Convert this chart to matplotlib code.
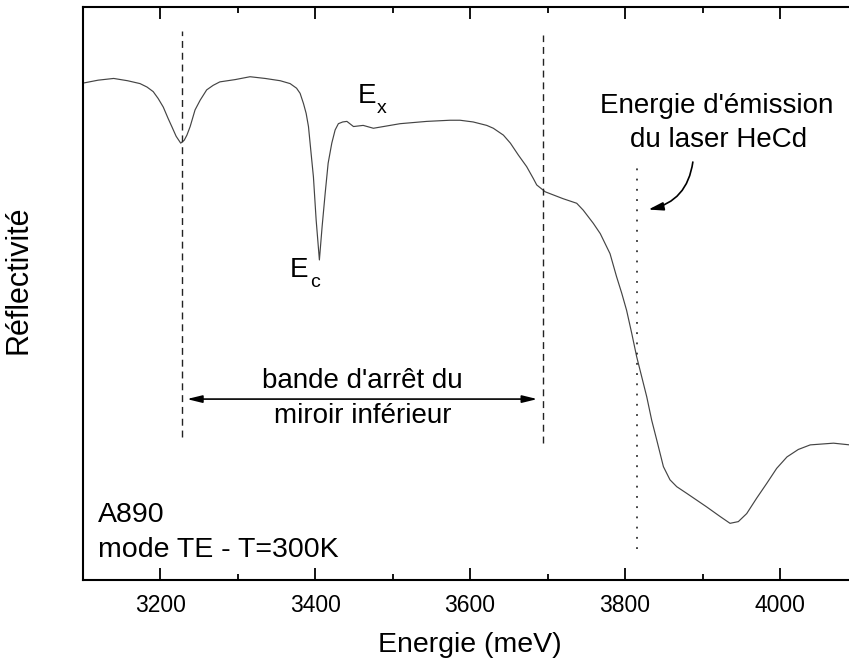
import matplotlib
matplotlib.use("Agg")
import matplotlib.pyplot as plt
from matplotlib.ticker import MultipleLocator

plt.rcParams['font.family'] = ['Liberation Sans', 'DejaVu Sans']

# Reflectivity spectrum, arbitrary units
energy = [3101, 3120, 3140, 3158, 3174, 3183, 3191, 3197.4, 3204, 3210.3, 3215, 3220.6,
          3226.5, 3231, 3234.5, 3238.7, 3245, 3251.6, 3260, 3268.4, 3277, 3296.8, 3316,
          3335.5, 3355, 3367.7, 3376, 3380.6, 3385, 3388.4, 3391.4, 3394.8, 3397.8, 3401.3,
          3405.5, 3409, 3413, 3416.8, 3421.5, 3425.8, 3430, 3435.6, 3441, 3449.5, 3462,
          3475.2, 3492.5, 3509.7, 3544.1, 3574, 3587, 3604, 3621.5, 3630, 3643, 3652,
          3662.4, 3673, 3681.7, 3686, 3697, 3720, 3737.6, 3746, 3759, 3768, 3780.6, 3789,
          3795.7, 3802, 3808.6, 3815, 3821.5, 3828, 3834.4, 3841, 3849.5, 3858, 3866.7,
          3880, 3905, 3922.6, 3935.5, 3946.2, 3957, 3969.9, 3983, 3995.7, 4009, 4023.6,
          4039, 4069, 4090]
reflect = [0.868, 0.873, 0.876, 0.872, 0.867, 0.861, 0.853, 0.841, 0.826, 0.806, 0.792,
           0.775, 0.763, 0.768, 0.777, 0.792, 0.821, 0.838, 0.856, 0.864, 0.870, 0.874,
           0.879, 0.876, 0.872, 0.867, 0.859, 0.850, 0.832, 0.815, 0.792, 0.745, 0.704,
           0.629, 0.559, 0.617, 0.676, 0.728, 0.763, 0.786, 0.797, 0.800, 0.801, 0.792,
           0.794, 0.789, 0.793, 0.797, 0.801, 0.803, 0.803, 0.800, 0.794, 0.789, 0.777,
           0.763, 0.742, 0.722, 0.701, 0.690, 0.678, 0.666, 0.658, 0.646, 0.623, 0.605,
           0.570, 0.530, 0.501, 0.471, 0.431, 0.390, 0.355, 0.320, 0.279, 0.244, 0.198,
           0.175, 0.163, 0.151, 0.128, 0.111, 0.099, 0.102, 0.116, 0.143, 0.169, 0.195,
           0.215, 0.228, 0.236, 0.239, 0.236]

xticks = [3200, 3400, 3600, 3800, 4000]

# marker lines: (energy, ymin, ymax)
stopband_lines = [(3228, 0.250, 0.959), (3694.6, 0.239, 0.952)]
laser_line = (3815, 0.055, 0.722)

fig = plt.figure(figsize=(8.49, 6.65), dpi=100)
ax = fig.add_axes([0.0974, 0.1278, 0.9126, 0.861])

ax.plot(energy, reflect, color='#444444', lw=0.85)

for e, y0, y1 in stopband_lines:
    ax.plot([e, e], [y0, y1], color='#222222', lw=1.0, linestyle=(0, (5, 3.5)))
ax.plot([laser_line[0]] * 2, [laser_line[1], laser_line[2]], color='#111111', lw=1.1,
        linestyle=(0, (1.2, 5.5)))

ax.set_xlim(3100, 4100)
ax.set_ylim(0, 1)
ax.set_xticks(xticks)
ax.xaxis.set_minor_locator(MultipleLocator(100))
ax.set_yticks([])
ax.tick_params(axis='x', which='major', direction='in', length=8.5, width=1.3,
               top=True, labelsize=16.5, pad=10)
ax.tick_params(axis='x', which='minor', direction='in', length=4.5, width=1.3, top=True)
for s in ax.spines.values():
    s.set_linewidth(1.5)

ax.set_xlabel('Energie (meV)', fontsize=20.5, labelpad=11)
ax.set_ylabel('Réflectivité', fontsize=22)
ax.yaxis.set_label_coords(-0.063, 0.525)

# stop band double arrow
ax.annotate('', xy=(3234.5, 0.316), xytext=(3686.8, 0.316),
            arrowprops=dict(arrowstyle='<|-|>,head_length=0.9,head_width=0.22',
                            color='black', lw=1.2, shrinkA=0, shrinkB=0))
ax.text(3461.5, 0.335, "bande d'arrêt du", ha='center', va='baseline', fontsize=20)
ax.text(3461.5, 0.274, "miroir inférieur", ha='center', va='baseline', fontsize=20)

# laser annotation
ax.text(3918.7, 0.816, "Energie d'émission", ha='center', va='baseline', fontsize=20)
ax.text(3921.3, 0.757, "du laser HeCd", ha='center', va='baseline', fontsize=20)
ax.annotate('', xy=(3830.1, 0.647), xytext=(3887.5, 0.730),
            arrowprops=dict(arrowstyle='-|>,head_length=0.9,head_width=0.25',
                            connectionstyle='arc3,rad=-0.35',
                            color='black', lw=1.2, shrinkA=0, shrinkB=0))

# peak labels
ax.text(3455, 0.833, 'E', ha='left', va='baseline', fontsize=20)
ax.text(3480, 0.8154, 'x', ha='left', va='baseline', fontsize=14)
ax.text(3367, 0.530, 'E', ha='left', va='baseline', fontsize=20)
ax.text(3393.5, 0.5116, 'c', ha='left', va='baseline', fontsize=14)

# sample info
ax.text(3120, 0.102, 'A890', ha='left', va='baseline', fontsize=20.5)
ax.text(3120, 0.0407, 'mode TE - T=300K', ha='left', va='baseline', fontsize=20.5)

fig.savefig('out.png', dpi=100)
